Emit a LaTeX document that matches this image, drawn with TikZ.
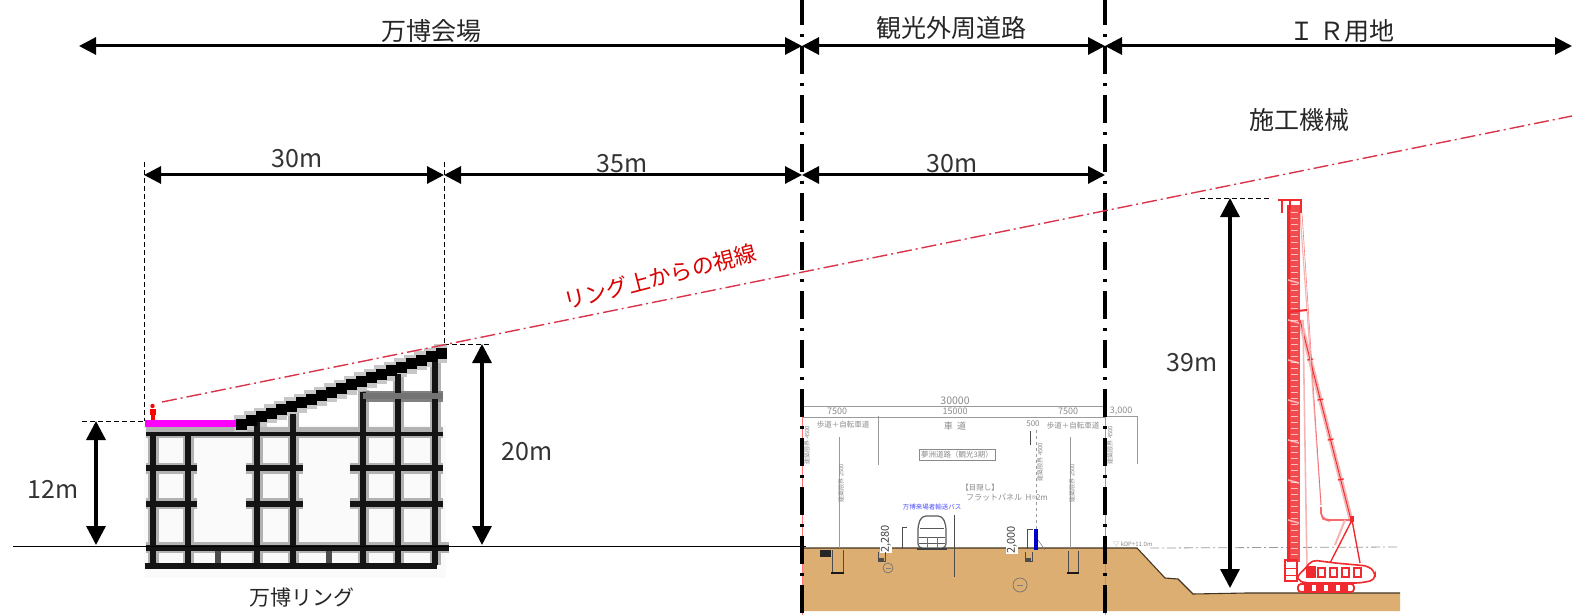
\documentclass[tikz,border=0pt]{standalone}
\usepackage{fontspec}
\setmainfont{Noto Sans CJK JP}
\usetikzlibrary{arrows.meta,calc}
\definecolor{soil}{HTML}{DDAE72}
\definecolor{sight}{HTML}{D9344A}
\definecolor{cranered}{HTML}{F02A2E}
\definecolor{cranelt}{HTML}{F6B5B5}
\definecolor{dimgrey}{HTML}{9A9A9A}
\definecolor{txtgrey}{HTML}{8A8A8A}
\definecolor{hotpink}{HTML}{FF00FF}
\tikzset{
  lbl/.style={font=\fontsize{25}{28}\selectfont,text=black!85,inner sep=0pt},
  num/.style={font=\fontsize{25}{28}\selectfont,text=black!80,inner sep=0pt},
  tiny/.style={font=\fontsize{7.5}{8}\selectfont,text=txtgrey,inner sep=0pt},
  dimnum/.style={font=\fontsize{10.5}{11}\selectfont,text=txtgrey,inner sep=0pt},
  bigdim/.style={draw=black,line width=3pt,{Triangle[width=17pt,length=17pt]}-{Triangle[width=17pt,length=17pt]}},
  vdim/.style={draw=black,line width=3.3pt,{Triangle[width=19pt,length=19pt]}-{Triangle[width=19pt,length=19pt]}},
  guide/.style={draw=black,line width=0.9pt,dash pattern=on 5pt off 3pt},
  border/.style={draw=black,line width=3.8pt,dash pattern=on 28pt off 9pt on 3pt off 9pt,dash phase=3pt},
  halo/.style={draw=black!30,line width=11pt},
  beam/.style={draw=black!92,line width=5.5pt},
  thin/.style={draw=dimgrey,line width=0.8pt},
}
\begin{document}
\begin{tikzpicture}[x=1pt,y=-1pt]
\useasboundingbox (0,0) rectangle (1580,615);
% ---------- named points
\foreach \n/\x/\y in {tA/79/46,tB/802/46,tC/1105/46,tD/1572/46,
  mA/144/175,mB/444/175,mC/802/175,mD/1105/175,
  aT/96/421,aB/96/545,bT/482/344,bB/482/545,cT/1230/198,cB/1230/588,
  gL/13/546,gR/806/546,sS/162/402,sE/1572/116,
  gA1/144/162,gA2/144/421,gB1/444/162,gB2/444/344,
  hA1/82/421,hA2/146/421,hB1/444/344,hB2/490/344,hC1/1200/198,hC2/1272/198,
  bdA1/802/0,bdA2/802/615,bdB1/1105/0,bdB2/1105/615,
  dL1/802/406,dR1/1105/406,dL2/802/417,dR2/1105/417}
  {\coordinate (\n) at (\x,\y);}
% ---------- soil
\fill[soil] (802,548) -- (1137,548) -- (1165,578) -- (1178,579) -- (1193,594) -- (1247,593) -- (1400,593) -- (1400,611) -- (802,611) -- cycle;
\draw[black!70!soil,line width=1.1pt] (802,548) -- (1137,548) -- (1165,578) -- (1178,579) -- (1193,594) -- (1247,593) -- (1400,593);
% ---------- ring: soft halo
\fill[black!2] (144,425) rectangle (446,578);
\foreach \x/\t in {153/432,188/432,257/420,293/412,363/390,398/372,435/352}{\draw[halo] (\x,\t) -- (\x,565);}
\foreach \a/\b in {146/197,246/303,350/443}{
  \draw[halo] (\a,468) -- (\b,468);
  \draw[halo] (\a,503) -- (\b,503);}
\draw[halo] (146,432) -- (443,432);
\draw[halo,draw=black!50] (363,396) -- (443,396);
\draw[halo] (146,547) -- (449,547);
\foreach \i in {0,...,20}{
  \pgfmathsetmacro{\px}{236+10*\i}
  \pgfmathsetmacro{\py}{424-3.55*\i}
  \fill[black!22] (\px-2,\py-9) rectangle (\px+11,\py+10);}
% ring: members
\foreach \x/\t in {153/432,188/432,257/422,293/414,363/392,398/374,435/352}{\draw[beam] (\x,\t) -- (\x,565);}
\foreach \x in {218,329}{\draw[beam,draw=black!70] (\x,550) -- (\x,565);}
\foreach \a/\b in {146/197,246/303,350/443}{
  \draw[beam] (\a,468) -- (\b,468);
  \draw[beam] (\a,504) -- (\b,504);}
\draw[beam,line width=4pt] (146,434) -- (443,434);
\draw[beam,draw=black!55,line width=6pt] (363,396) -- (443,396);
\draw[beam] (146,548) -- (449,548);
\draw[beam] (145,566) -- (437,566);
\foreach \i in {0,...,20}{
  \pgfmathsetmacro{\px}{236+10*\i}
  \pgfmathsetmacro{\py}{424-3.55*\i}
  \fill[black] (\px,\py-5.5) rectangle (\px+10.5,\py+5.5);}
\fill[hotpink] (145,420) rectangle (236,427);
% person
\fill[red] (152.5,406) circle (2.2pt);
\fill[red] (149.5,409) rectangle (155.5,415);
\fill[red] (150.5,415) rectangle (154.5,420);
% ---------- ground line
\draw[draw=black,line width=1pt] (gL) -- (gR);
% ---------- section details
\draw[thin] (dL1) -- (dR1);
\draw[thin] (dL2) -- (dR2);
\draw[thin] (1105,416) -- (1137,416) -- (1137,464);
\draw[thin] (839,437) -- (839,548);
\draw[thin] (878,416) -- (878,465);
\draw[thin,draw=black!70] (1030,431) -- (1030,445);
\draw[thin,dashed] (1036,430) -- (1036,548);
\draw[thin] (1070,437) -- (1070,548);
\draw[thin,draw=black!70] (954,515) -- (954,577);
\draw[thin,draw=black!70] (902,527) -- (902,549);
\draw[thin,draw=black!70] (902,527) -- (907,527);
\draw[thin,draw=black!70] (1027,529) -- (1027,549);
\draw[thin,draw=black!70] (1027,529) -- (1033,529);
\node[dimnum] (n30000) at (955,401) {30000};
\node[dimnum,font=\fontsize{9}{10}\selectfont] (n7500a) at (837,411.5) {7500};
\node[dimnum,font=\fontsize{9}{10}\selectfont] (n15000) at (955,411.5) {15000};
\node[dimnum,font=\fontsize{9}{10}\selectfont] (n7500b) at (1068,411.5) {7500};
\node[dimnum,font=\fontsize{9}{10}\selectfont] (n3000) at (1121,411.5) {3,000};
\node[dimnum,font=\fontsize{8}{9}\selectfont] (n500) at (1033,424) {500};
\node[tiny] (walkA) at (843,425) {歩道＋自転車道};
\node[tiny,font=\fontsize{9}{10}\selectfont] (road) at (955,426) {車\ \ 道};
\node[tiny] (walkB) at (1073,426) {歩道＋自転車道};
\node[tiny,draw=txtgrey,line width=0.6pt,inner sep=2pt] (plan) at (957,455) {夢洲道路（観光3期）};
\node[tiny] (shade) at (980,488) {【目隠し】};
\node[tiny,font=\fontsize{8}{9}\selectfont] (panel) at (1007,498) {フラットパネル\ \ H=2m};
\node[tiny,text=blue!70,font=\fontsize{6.5}{7}\selectfont] (buslbl) at (932,507) {万博来場者輸送バス};
\node[tiny,font=\fontsize{6}{7}\selectfont,rotate=90] (v1) at (807,445) {建築限界 4500};
\node[tiny,font=\fontsize{6}{7}\selectfont,rotate=90] (v2) at (841,483) {建築限界 2500};
\node[tiny,font=\fontsize{6}{7}\selectfont,rotate=90] (v3) at (1040,462) {建築限界 4500};
\node[tiny,font=\fontsize{6}{7}\selectfont,rotate=90] (v4) at (1072,483) {建築限界 2500};
\node[tiny,font=\fontsize{6}{7}\selectfont,rotate=90] (v5) at (1110,445) {建築限界 4500};
\node[tiny,font=\fontsize{6}{7}\selectfont] (tp) at (1133,544) {▽ kDP+11.0m};
\node[font=\fontsize{11}{13}\selectfont,text=black!75,rotate=90,fill=white,inner sep=0.5pt] (h2280) at (886,539) {2,280};
\node[font=\fontsize{11}{13}\selectfont,text=black!75,rotate=90,fill=white,inner sep=0.5pt] (h2000) at (1012,540) {2,000};
% bus
\fill[white,draw=black!65,line width=1.2pt,rounded corners=4pt] (918,548) -- (918,525) -- (922,516) -- (942,516) -- (946,525) -- (946,548) -- cycle;
\draw[black!65,line width=1pt] (920,528) -- (944,528) (919,537) -- (945,537) (919,543) -- (945,543);
\draw[black!55,line width=0.7pt] (927,537) -- (927,548) (937,537) -- (937,548);
\draw[black!75,line width=1.6pt] (917,549) -- (947,549);
% panel
\fill[blue!80!black] (1034,529) rectangle (1037.5,550);
\draw[black!50,line width=0.6pt] (1038,540) -- (1045,550);
% ditches, pits
\fill[black!85] (820,550) rectangle (831,557);
\draw[black!70,line width=1pt] (878,552) -- (878,561) -- (885,561) -- (885,552);
\fill[black!70] (879,558) rectangle (884,561);
\draw[black!70,line width=1pt] (1025,552) -- (1025,561) -- (1032,561) -- (1032,552);
\fill[black!70] (1026,558) rectangle (1031,561);
\draw[black!70,line width=1pt] (832,550) -- (832,573) -- (843,573) -- (843,550);
\draw[black!90,line width=1.2pt] (831,573) -- (844,573);
\draw[black!70,line width=1pt] (1068,551) -- (1068,573) -- (1078,573) -- (1078,551);
\draw[black!90,line width=1.2pt] (1067,573) -- (1079,573);
\draw[black!55,line width=0.7pt] (888,568) circle (5pt);
\draw[black!55,line width=0.7pt] (1020,585) circle (7pt);
\fill[black!50] (885.5,567.5) rectangle (890.5,568.5);
\fill[black!50] (1017,584.5) rectangle (1023,585.5);
% ---------- water level dash
\draw[dimgrey,line width=0.8pt,dash pattern=on 9pt off 3pt on 2pt off 3pt] (1150,548) -- (1400,547);
% ---------- crane
\draw[cranelt,line width=4.5pt] (1300,320) -- (1351,520);
\draw[cranered,line width=0.9pt] (1300,320) -- (1351,520);
\foreach \t in {.2,.4,.6,.8}{\draw[cranered,line width=1.2pt] ($(1300,320)!\t!(1351,520)+(-3,0)$) -- ++(6,-1);}
\draw[cranelt,line width=1.2pt] (1300,213) -- (1321,505);
\draw[cranelt,line width=1.6pt] (1303,320) -- (1307,570);
\draw[cranered,line width=0.6pt,opacity=.6] (1302,213) -- (1321,505);
\draw[cranered!70,line width=1.8pt,rounded corners=5pt] (1321,507) -- (1321,518) -- (1327,520) -- (1352,520);
\fill[cranered!85] (1287,205) rectangle (1300,562);
\fill[cranered] (1287,205) rectangle (1290,562);
\foreach \y in {212,218,...,556}{\draw[white,line width=.9pt,opacity=.65] (1291,\y) -- (1298,\y);}
\foreach \y in {280,320,...,550}{\draw[white,line width=1.6pt,opacity=.6] (1288,\y) -- (1299,\y+3);}
\draw[cranered,line width=1.5pt] (1278,200) -- (1301,200) -- (1301,213) (1282,200) -- (1282,213) (1290,200) -- (1290,210);
\draw[cranered,line width=2pt] (1288,312) -- (1307,310);
\draw[cranered,line width=1.4pt] (1352,520) -- (1330,563) (1352,520) -- (1360,563);
\draw[cranelt,line width=2pt] (1345,520) -- (1335,545);
\fill[cranered] (1350,516) rectangle (1354,522);
\draw[cranered,line width=1.6pt] (1285,560) rectangle (1297,581);
\draw[cranered,line width=.8pt] (1285,568) -- (1297,568) (1285,575) -- (1297,575);
\fill[white,draw=cranered,line width=1.6pt,rounded corners=5pt] (1297,576) -- (1304,570) -- (1312,560) -- (1335,563) -- (1368,566) -- (1375,572) -- (1375,580) -- (1360,583) -- (1305,583) -- (1297,580) -- cycle;
\foreach \x in {1318,1330,1342,1354}{\fill[white,draw=cranered,line width=1.6pt] (\x,568) rectangle (\x+7,577);}
\fill[cranered] (1306,566) rectangle (1316,578);
\fill[white,draw=cranered,line width=1.8pt,rounded corners=3pt] (1298,584) rectangle (1354,592);
\foreach \x in {1304,1316,1328,1340}{\fill[cranered] (\x,585) rectangle (\x+8,592);}
% ---------- border lines
\draw[draw=red!55,line width=0.6pt] (802,410) -- (bdA2);
\draw[draw=red!55,line width=0.6pt] (1105,410) -- (bdB2);
\draw[border] (bdA1) -- (bdA2);
\draw[border] (bdB1) -- (bdB2);
% ---------- guides
\draw[guide] (gA1) -- (gA2);
\draw[guide] (gB1) -- (gB2);
\draw[guide] (hA1) -- (hA2);
\draw[guide] (hB1) -- (hB2);
\draw[guide] (hC1) -- (hC2);
% ---------- sight line
\draw[sight,line width=1.4pt,dash pattern=on 15pt off 4pt on 2pt off 4pt] (sS) -- (sE);
% ---------- dimension arrows
\draw[bigdim] (tA) -- (tB);
\draw[bigdim] (tB) -- (tC);
\draw[bigdim] (tC) -- (tD);
\draw[bigdim] (mA) -- (mB);
\draw[bigdim] (mB) -- (mC);
\draw[bigdim] (mC) -- (mD);
\draw[vdim] (aT) -- (aB);
\draw[vdim] (bT) -- (bB);
\draw[vdim] (cT) -- (cB);
% ---------- labels
\node[lbl] (l1) at (431,31) {万博会場};
\node[lbl] (l2) at (951,28) {観光外周道路};
\node[lbl] (l3) at (1342,31) {Ｉ Ｒ用地};
\node[lbl] (l4) at (1299,120) {施工機械};
\node[num] (l5) at (297,159) {30m};
\node[num] (l6) at (622,164) {35m};
\node[num] (l7) at (952,164) {30m};
\node[num] (l8) at (53,489) {12m};
\node[num] (l9) at (527,452) {20m};
\node[num] (l10) at (1192,363) {39m};
\node[lbl,font=\fontsize{21}{24}\selectfont] (l11) at (302,598) {万博リング};
\node[lbl,font=\fontsize{22}{24}\selectfont,text=red!85!black,rotate=14.5] (l12) at (660,277) {リング上からの視線};
\end{tikzpicture}
\end{document}
